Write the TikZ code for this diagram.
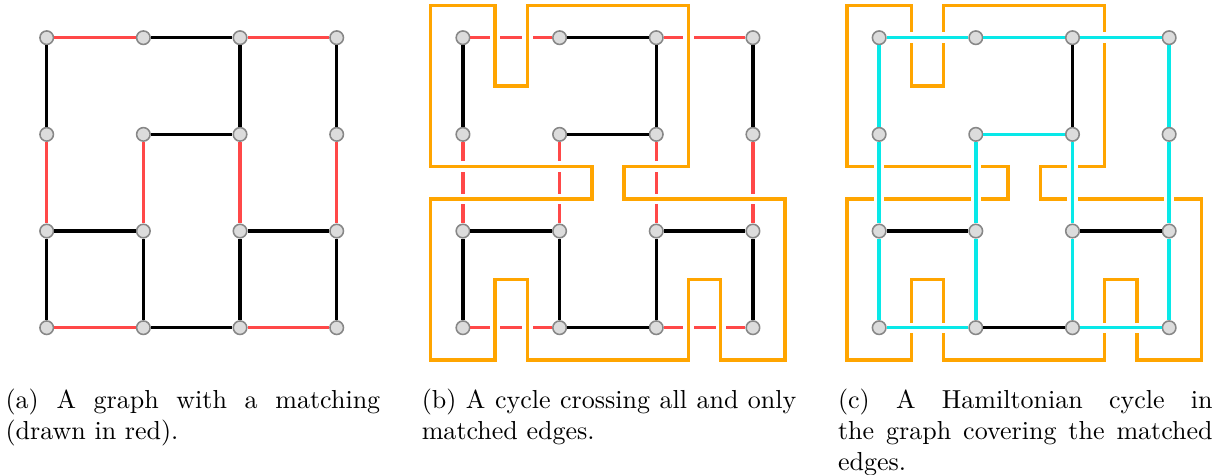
\documentclass[tikz,border=0pt]{standalone}
\usepackage{tikz}
\usetikzlibrary{positioning}

\definecolor{matchred}{RGB}{255,72,72}
\definecolor{looporange}{RGB}{255,165,0}
\definecolor{hamcyan}{RGB}{8,232,232}
\definecolor{vtxfill}{RGB}{220,220,220}
\definecolor{vtxdraw}{RGB}{135,135,135}

\tikzset{
  crossloop/.pic={
    \draw[loopline] (-1/3,10/3) -- (1/3,10/3) -- (1/3,5/2) -- (2/3,5/2) -- (2/3,10/3)
      -- (7/3,10/3) -- (7/3,5/3) -- (5/3,5/3) -- (5/3,4/3) -- (10/3,4/3)
      -- (10/3,-1/3) -- (8/3,-1/3) -- (8/3,1/2) -- (7/3,1/2) -- (7/3,-1/3)
      -- (2/3,-1/3) -- (2/3,1/2) -- (1/3,1/2) -- (1/3,-1/3) -- (-1/3,-1/3)
      -- (-1/3,4/3) -- (4/3,4/3) -- (4/3,5/3) -- (-1/3,5/3) -- cycle;
  }
}

\begin{document}
\begin{tikzpicture}[x=37.16pt,y=37.16pt,
  vtx/.style={circle,draw=vtxdraw,fill=vtxfill,line width=0.6pt,minimum size=5.2pt,inner sep=0pt},
  unmatched/.style={line width=1.3pt,black},
  matched/.style={line width=1.3pt,matchred},
  ham/.style={line width=1.3pt,hamcyan,preaction={draw,white,line width=4pt}},
  loopline/.style={line width=1.3pt,looporange,preaction={draw,white,line width=4pt}},
  capt/.style={text width=144pt,align=justify,inner sep=0pt,anchor=base west}]
\useasboundingbox (-17.95pt,-56.62pt) rectangle (451.79pt,125.97pt);

\foreach \p/\dx in {a/0,b/160,c/320}
  \foreach \i in {0,...,3}
    \foreach \j in {0,...,3}
      \node[vtx] (\p\i\j) at ([xshift=\dx pt]\i,\j) {};

\foreach \p in {a,b} {
  \foreach \u/\v in {13/23,03/02,23/22,33/32,12/22,01/11,21/31,01/00,11/10,21/20,31/30,10/20}
    \draw[unmatched] (\p\u) -- (\p\v);
  \foreach \u/\v in {03/13,23/33,02/01,12/11,22/21,32/31,00/10,20/30}
    \draw[matched] (\p\u) -- (\p\v);
}
\pic at (b00) {crossloop};

\pic at (c00) {crossloop};
\foreach \u/\v in {03/13,13/23,23/33,33/32,32/31,31/30,30/20,20/21,21/22,22/12,12/11,11/10,10/00,00/01,01/02,02/03}
  \draw[ham] (c\u) -- (c\v);
\foreach \u/\v in {23/22,01/11,21/31,10/20}
  \draw[unmatched] (c\u) -- (c\v);

\node[capt] (capa) at ([xshift=-16pt,yshift=-31pt]a00) {(a) A graph with a matching (drawn in red).};
\node[capt] (capb) at ([xshift=-16pt,yshift=-31pt]b00) {(b) A cycle crossing all and only matched edges.};
\node[capt] (capc) at ([xshift=-16pt,yshift=-31pt]c00) {(c) A Hamiltonian cycle in the graph covering the matched edges.};
\end{tikzpicture}
\end{document}
